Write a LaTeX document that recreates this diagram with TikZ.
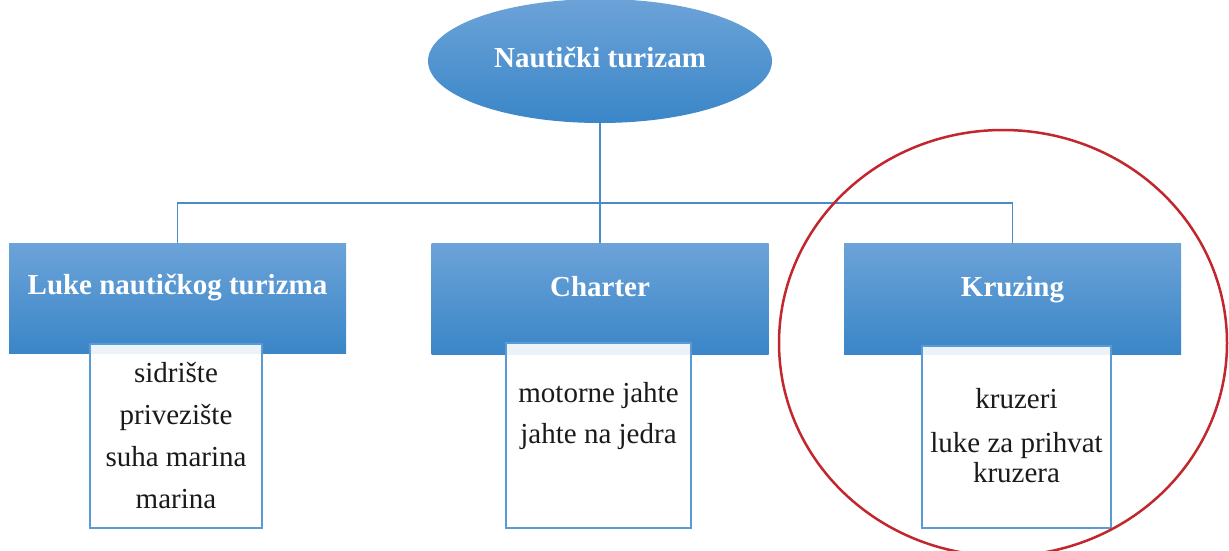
\documentclass[tikz,border=0pt]{standalone}
\usepackage{fontspec}
\setmainfont{Liberation Serif}
\usetikzlibrary{shapes.geometric}
\definecolor{topblue}{HTML}{6CA3D8}
\definecolor{botblue}{HTML}{3A86C8}
\definecolor{linkblue}{HTML}{4A8BC8}
\definecolor{edgeblue}{HTML}{5B9BD5}
\definecolor{hired}{HTML}{C1272D}
\definecolor{txt}{HTML}{1A1A1A}
\tikzset{
  parentbox/.style={rectangle, inner sep=0pt, top color=topblue, bottom color=botblue, draw=none},
  childbox/.style={rectangle, inner sep=0pt, draw=edgeblue, line width=1.5pt, fill=white, fill opacity=0.9},
  titletext/.style={anchor=base, text=white, font=\fontsize{29}{35}\selectfont\bfseries, inner sep=0pt},
  itemtext/.style={anchor=base, text=txt, font=\fontsize{29}{35}\selectfont, inner sep=0pt},
  link/.style={draw=linkblue, line width=1.4pt},
}
\begin{document}
\begin{tikzpicture}[x=1pt,y=-1pt]
\useasboundingbox[fill=white] (0,0) rectangle (1229,551);
% root
\node[ellipse, inner sep=0pt, minimum width=344pt, minimum height=124pt, top color=topblue, bottom color=botblue] (root) at (600,61) {};
\node[titletext] (roottxt) at (600,68) {Nautički turizam};
% bus
\coordinate (bus) at (600,203);
% parents
\node[parentbox, minimum width=337pt, minimum height=110pt] (luke) at (177.5,298) {};
\node[parentbox, minimum width=337pt, minimum height=111pt] (charter) at (600,298.5) {};
\node[parentbox, minimum width=337pt, minimum height=111pt] (kruzing) at (1012.5,298.5) {};
% connectors
\draw[link] (root.south) -- (charter.north);
\draw[link] (luke.north) |- (bus) -| (kruzing.north);
% titles
\node[titletext] (lukeT) at (177.5,294) {Luke nautičkog turizma};
\node[titletext] (charterT) at (600,296) {Charter};
\node[titletext] (kruzingT) at (1012.5,296) {Kruzing};
% children
\node[childbox, minimum width=172pt, minimum height=184pt] (c1) at (176,436) {};
\node[childbox, minimum width=185pt, minimum height=185pt] (c2) at (598.5,435.5) {};
\node[childbox, minimum width=189pt, minimum height=182pt] (c3) at (1016.5,437) {};
% child texts
\node[itemtext] (c1a) at (176,382) {sidrište};
\node[itemtext] (c1b) at (176,424) {privezište};
\node[itemtext] (c1c) at (176,466) {suha marina};
\node[itemtext] (c1d) at (176,508) {marina};
\node[itemtext] (c2a) at (598.5,402) {motorne jahte};
\node[itemtext] (c2b) at (598.5,443) {jahte na jedra};
\node[itemtext] (c3a) at (1016.5,408) {kruzeri};
\node[itemtext] (c3b) at (1016.5,452) {luke za prihvat};
\node[itemtext] (c3c) at (1016.5,482) {kruzera};
% highlight
\node[ellipse, draw=hired, line width=2.5pt, inner sep=0pt, minimum width=448pt, minimum height=426pt] (hl) at (1003,343) {};
\end{tikzpicture}
\end{document}
